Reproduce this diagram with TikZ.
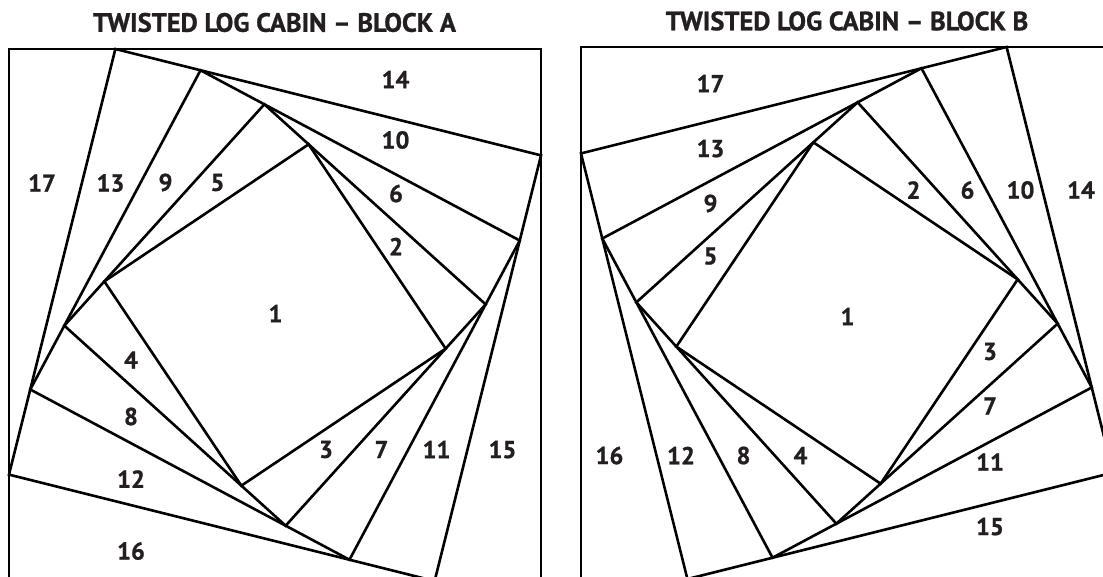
\documentclass[tikz,border=0pt]{standalone}
\usepackage{fontspec}
\setmainfont{PT Sans}[BoldFont={PT Sans Bold}, BoldFeatures={FakeBold=0.9}]
\usetikzlibrary{calc}
\definecolor{ink}{HTML}{231F20}
\begin{document}
\begin{tikzpicture}[x=1pt,y=-1pt,
  edge/.style={line width=2.6pt, line join=miter, draw=black},
  lab/.style={font=\bfseries\fontsize{24.5}{24.5}\selectfont, text=ink, inner sep=0pt, anchor=center},
  ttl/.style={font=\bfseries\fontsize{26.5}{26.5}\selectfont, text=ink, inner sep=0pt, anchor=center}]
\useasboundingbox (0,0) rectangle (1103,576);
% ---------- Block A (clockwise twist)
\coordinate (A5a) at (9,49);
\coordinate (A5b) at (541,49);
\coordinate (A5c) at (541,581);
\coordinate (A5d) at (9,581);
% ---------- Block B (counter-clockwise twist)
\coordinate (B5a) at (1113,47);
\coordinate (B5b) at (581,47);
\coordinate (B5c) at (581,579);
\coordinate (B5d) at (1113,579);
\foreach \p in {A,B}{
  \foreach \k [evaluate=\k as \j using int(\k-1)] in {5,4,3,2}{
    \coordinate (\p\j a) at ($(\p\k a)!0.2!(\p\k b)$);
    \coordinate (\p\j b) at ($(\p\k b)!0.2!(\p\k c)$);
    \coordinate (\p\j c) at ($(\p\k c)!0.2!(\p\k d)$);
    \coordinate (\p\j d) at ($(\p\k d)!0.2!(\p\k a)$);
  }
  \foreach \k in {5,4,3,2,1}{
    \draw[edge] (\p\k a) -- (\p\k b) -- (\p\k c) -- (\p\k d) -- cycle;
  }
}
% ---------- titles
\node[ttl] (tA) at (274.5,22.5) {TWISTED LOG CABIN – BLOCK A};
\node[ttl] (tB) at (847,21) {TWISTED LOG CABIN – BLOCK B};
% ---------- labels A
\node[lab] (a1) at (275.5,313.5) {1};
\node[lab] (a2) at (396,246.5) {2};
\node[lab] (a3) at (326,449.5) {3};
\node[lab] (a4) at (131,360) {4};
\node[lab] (a5) at (217.5,182.5) {5};
\node[lab] (a6) at (396,193.5) {6};
\node[lab] (a7) at (381.5,449.5) {7};
\node[lab] (a8) at (131,416.5) {8};
\node[lab] (a9) at (165.5,182.5) {9};
\node[lab] (a10) at (395.5,140) {10};
\node[lab] (a11) at (436.5,449.5) {11};
\node[lab] (a12) at (131,479) {12};
\node[lab] (a13) at (110.5,183) {13};
\node[lab] (a14) at (395.5,79.5) {14};
\node[lab] (a15) at (502.5,449.5) {15};
\node[lab] (a16) at (131,551) {16};
\node[lab] (a17) at (42,183) {17};
% ---------- labels B
\node[lab] (b1) at (847.5,316.5) {1};
\node[lab] (b2) at (913.5,190) {2};
\node[lab] (b3) at (990,351.5) {3};
\node[lab] (b4) at (800.5,455.5) {4};
\node[lab] (b5) at (710.5,256) {5};
\node[lab] (b6) at (967.5,190) {6};
\node[lab] (b7) at (990,406) {7};
\node[lab] (b8) at (743.5,455.5) {8};
\node[lab] (b9) at (710.5,203.5) {9};
\node[lab] (b10) at (1020.5,190) {10};
\node[lab] (b11) at (990,462) {11};
\node[lab] (b12) at (681,455.5) {12};
\node[lab] (b13) at (710.5,148.5) {13};
\node[lab] (b14) at (1081,190) {14};
\node[lab] (b15) at (990,526.5) {15};
\node[lab] (b16) at (609.5,455.5) {16};
\node[lab] (b17) at (710.5,83.5) {17};
\end{tikzpicture}
\end{document}
